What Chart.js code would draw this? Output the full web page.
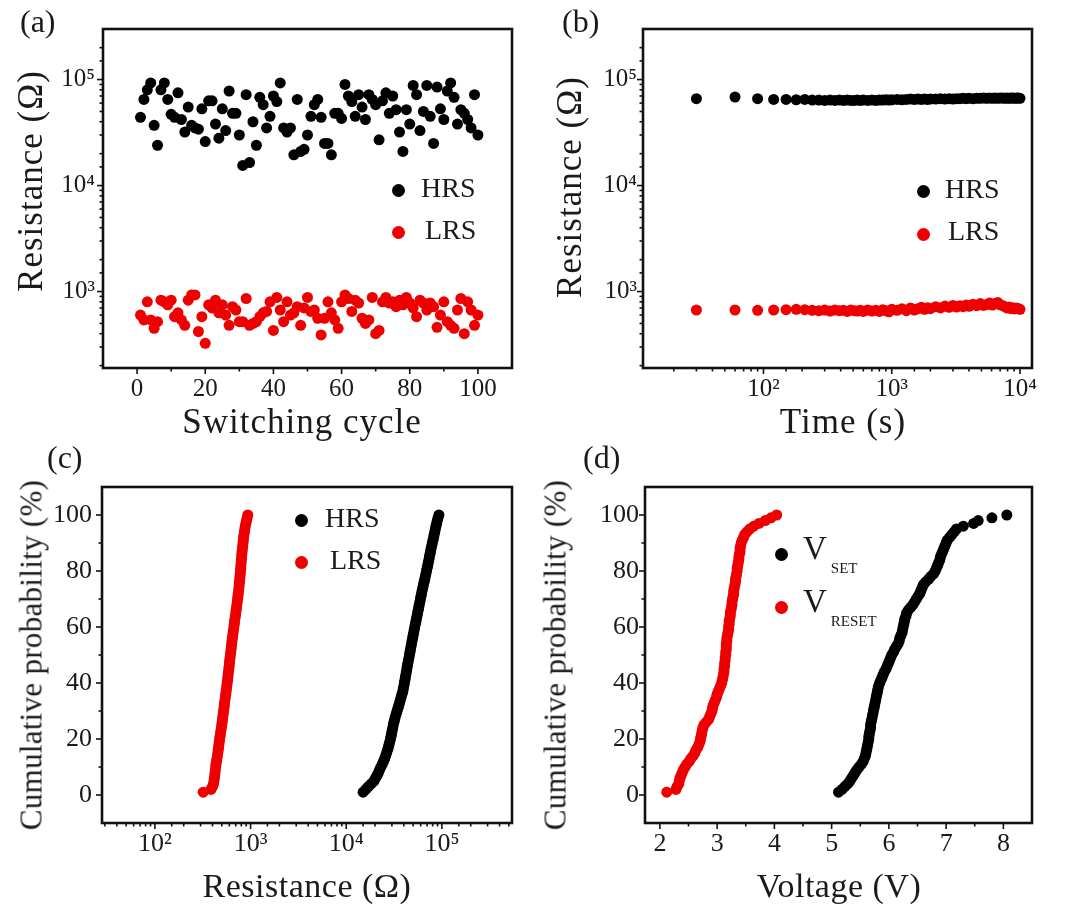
<!DOCTYPE html>
<html>
<head>
<meta charset="utf-8">
<script src="https://cdn.jsdelivr.net/npm/chart.js@4"></script>
<style>
  body { margin: 0; background: #fff; }
  #wrap { position: relative; width: 1072px; height: 904px; font-family: "Liberation Serif", "Times New Roman", serif; color: #1a1a1a; overflow: hidden; }
  canvas { position: absolute; }
  .t { position: absolute; white-space: nowrap; line-height: 1; }
  .dot { position: absolute; border-radius: 50%; }
  .ytitle { transform: translate(-50%, -50%) rotate(-90deg); }
  .xtitle { transform: translateX(-50%); }
  sub { font-size: 15px; vertical-align: -14px; margin-left: 4px; }
</style>
</head>
<body>
<div id="wrap">
  <canvas id="ca" width="536" height="452" style="left:0;top:0"></canvas>
  <canvas id="cb" width="536" height="452" style="left:536px;top:0"></canvas>
  <canvas id="cc" width="536" height="452" style="left:0;top:452px"></canvas>
  <canvas id="cd" width="536" height="452" style="left:536px;top:452px"></canvas>

  <div class="t" style="left:20px;top:5px;font-size:32px">(a)</div>
  <div class="t" style="left:562px;top:5px;font-size:32px">(b)</div>
  <div class="t" style="left:47px;top:441px;font-size:32px">(c)</div>
  <div class="t" style="left:583px;top:441px;font-size:32px">(d)</div>

  <div class="t ytitle" style="left:30px;top:181px;font-size:35px;letter-spacing:1px">Resistance (Ω)</div>
  <div class="t xtitle" style="left:302px;top:404px;font-size:35px;letter-spacing:1px">Switching cycle</div>
  <div class="t ytitle" style="left:569px;top:187px;font-size:35px;letter-spacing:1px">Resistance (Ω)</div>
  <div class="t xtitle" style="left:843px;top:404px;font-size:35px;letter-spacing:1px">Time (s)</div>
  <div class="t ytitle" style="left:31px;top:655px;font-size:31px;letter-spacing:0.3px">Cumulative probability (%)</div>
  <div class="t xtitle" style="left:307px;top:869px;font-size:34px;letter-spacing:0.5px">Resistance (Ω)</div>
  <div class="t ytitle" style="left:555px;top:655px;font-size:31px;letter-spacing:0.3px">Cumulative probability (%)</div>
  <div class="t xtitle" style="left:839px;top:869px;font-size:34px;letter-spacing:0.5px">Voltage (V)</div>

  <div class="dot" style="left:392px;top:184px;width:13px;height:13px;background:#000"></div>
  <div class="t" style="left:421px;top:174px;font-size:28px">HRS</div>
  <div class="dot" style="left:392px;top:226px;width:13px;height:13px;background:#ee0000"></div>
  <div class="t" style="left:425px;top:216px;font-size:28px">LRS</div>

  <div class="dot" style="left:917px;top:185px;width:13px;height:13px;background:#000"></div>
  <div class="t" style="left:945px;top:175px;font-size:28px">HRS</div>
  <div class="dot" style="left:917px;top:228px;width:13px;height:13px;background:#ee0000"></div>
  <div class="t" style="left:948px;top:217px;font-size:28px">LRS</div>

  <div class="dot" style="left:295px;top:514px;width:13px;height:13px;background:#000"></div>
  <div class="t" style="left:325px;top:504px;font-size:28px">HRS</div>
  <div class="dot" style="left:295px;top:556px;width:13px;height:13px;background:#ee0000"></div>
  <div class="t" style="left:330px;top:546px;font-size:28px">LRS</div>

  <div class="dot" style="left:775px;top:548px;width:13px;height:13px;background:#000"></div>
  <div class="t" style="left:803px;top:532px;font-size:33px">V<sub>SET</sub></div>
  <div class="dot" style="left:775px;top:601px;width:13px;height:13px;background:#ee0000"></div>
  <div class="t" style="left:803px;top:585px;font-size:33px">V<sub>RESET</sub></div>
</div>
<script>
// (a) switching cycles
const cycles = [1,2,3,4,5,6,7,8,9,10,11,12,13,14,15,16,17,18,19,20,
  21,22,23,24,25,26,27,28,29,30,31,32,33,34,35,36,37,38,39,40,
  41,42,43,44,45,46,47,48,49,50,51,52,53,54,55,56,57,58,59,60,
  61,62,63,64,65,66,67,68,69,70,71,72,73,74,75,76,77,78,79,80,
  81,82,83,84,85,86,87,88,89,90,91,92,93,94,95,96,97,98,99,100];
const hrsCycle = [44000,65000,80000,93000,37000,24000,80000,93000,65000,47000,
  44000,75000,42000,32000,55000,37000,35000,34000,53000,26000,
  63000,63000,38000,28000,53000,33000,78000,48000,48000,30000,
  15500,72000,16500,40000,24000,68000,58000,35000,45000,70000,
  62000,93000,35000,32000,35000,19500,65000,21000,22000,30000,
  45000,58000,65000,44000,25000,25000,19500,48000,48000,43000,
  90000,70000,62000,45000,72000,55000,42000,72000,65000,58000,
  27000,63000,75000,48000,70000,52000,32000,21000,52000,38000,
  88000,72000,33000,50000,88000,45000,25000,85000,53000,42000,
  78000,93000,68000,38000,52000,48000,42000,35000,72000,30000];
const lrsCycle = [600,540,800,540,450,520,830,800,750,830,
  580,630,540,480,830,930,930,420,580,325,
  750,700,830,630,750,600,480,720,670,520,
  520,860,480,500,520,580,630,650,800,430,
  880,670,520,800,600,630,720,480,700,880,
  650,670,560,390,560,800,630,540,450,800,
  930,860,650,830,780,560,500,540,880,400,
  430,800,880,780,800,720,830,750,880,780,
  700,580,830,780,670,780,720,460,600,800,
  520,480,450,670,860,400,800,670,480,600];

// (b) retention
const timeS = [30,60,90,120,150,180,210,240,270,300,330,360,390,420,450,480,510,540,570,600,
  650,700,750,800,850,900,950,1000,
  1100,1200,1300,1400,1500,1600,1700,1800,1900,2000,
  2200,2400,2600,2800,3000,3200,3400,3600,3800,4000,
  4300,4600,4900,5200,5500,5800,6100,6400,6700,7000,
  7300,7600,7900,8200,8500,8800,9100,9400,9700,10000];
const hrsTime = [66000,68500,66000,65000,65000,64500,65000,64000,64000,63500,
  64000,63500,64000,63500,64000,63500,63500,64000,63500,64000,
  63500,64000,63500,64000,64000,64500,64000,64500,65000,64500,
  65000,65500,65000,65500,65000,65500,65000,65500,65500,66000,
  65500,66000,65500,66000,66000,66500,66000,66500,66000,66500,
  66500,67000,66500,67000,66500,67000,66500,67000,67000,66500,
  67000,66500,67000,67000,66500,67000,67000,66500];
const lrsTime = [670,670,665,670,675,680,675,665,660,670,
  655,670,660,665,650,670,660,655,665,650,
  670,655,665,650,675,660,645,680,665,690,
  660,700,670,690,710,680,705,690,720,700,
  730,710,740,715,735,720,745,725,760,735,
  770,740,755,780,745,770,790,750,740,720,
  700,715,690,705,685,700,690,680];

// (c)/(d) cumulative probability (%)
const prob = [1,2,3,4,5,6,7,8,9,10,11,12,13,14,15,16,17,18,19,20,
  21,22,23,24,25,26,27,28,29,30,31,32,33,34,35,36,37,38,39,40,
  41,42,43,44,45,46,47,48,49,50,51,52,53,54,55,56,57,58,59,60,
  61,62,63,64,65,66,67,68,69,70,71,72,73,74,75,76,77,78,79,80,
  81,82,83,84,85,86,87,88,89,90,91,92,93,94,95,96,97,98,99,100];
const hrsDist = [15000,16000,17000,18200,19500,20200,21000,21700,22300,23000,
  23800,24500,25200,25800,26400,27000,27500,28000,28500,29000,
  29400,29800,30200,30600,31000,31500,32000,32600,33300,34000,
  34700,35400,36100,36800,37500,38200,39000,39500,40000,40500,
  41000,41500,42000,42500,43000,43500,44000,44600,45200,45800,
  46300,46900,47500,48100,48700,49400,50000,50700,51300,52000,
  52700,53500,54200,55000,55700,56500,57200,58000,58800,59600,
  60400,61200,62100,63000,64000,65000,66000,67000,68000,69000,
  70000,71000,72000,73000,74000,75000,76000,77000,78200,79400,
  80600,81800,83000,84200,85400,86600,88000,89500,91000,93000];
const lrsDist = [320,385,400,410,415,418,422,425,428,432,
  435,440,445,450,455,459,463,467,471,475,
  480,485,490,495,500,505,509,513,518,522,
  527,531,535,540,545,550,555,560,565,570,
  575,579,583,588,592,597,601,605,610,615,
  620,625,630,635,640,645,651,657,663,669,
  675,680,687,694,700,707,713,720,726,732,
  738,744,750,755,760,765,770,775,780,785,
  789,793,797,801,806,810,816,822,828,834,
  840,845,853,862,871,880,893,906,920,935];
const vSet = [5.12,5.18,5.23,5.28,5.32,5.35,5.38,5.41,5.44,5.48,
  5.52,5.55,5.57,5.59,5.60,5.61,5.62,5.63,5.64,5.65,
  5.65,5.66,5.67,5.68,5.68,5.69,5.70,5.71,5.72,5.73,
  5.74,5.75,5.76,5.77,5.78,5.79,5.80,5.81,5.82,5.84,
  5.86,5.88,5.90,5.92,5.95,5.97,5.99,6.01,6.03,6.05,
  6.08,6.10,6.13,6.16,6.18,6.19,6.21,6.23,6.24,6.25,
  6.26,6.27,6.28,6.30,6.31,6.34,6.38,6.42,6.45,6.48,
  6.51,6.54,6.56,6.58,6.60,6.64,6.69,6.73,6.78,6.81,
  6.83,6.85,6.87,6.89,6.90,6.92,6.94,6.96,6.98,7.00,
  7.02,7.06,7.10,7.14,7.18,7.30,7.48,7.56,7.80,8.06];
const vReset = [2.12,2.28,2.30,2.33,2.34,2.35,2.37,2.39,2.41,2.44,
  2.47,2.51,2.54,2.58,2.61,2.63,2.66,2.68,2.70,2.71,
  2.72,2.73,2.74,2.75,2.77,2.81,2.85,2.87,2.89,2.91,
  2.92,2.93,2.95,2.97,2.99,3.00,3.02,3.04,3.06,3.08,
  3.09,3.10,3.11,3.12,3.12,3.13,3.13,3.14,3.14,3.15,
  3.15,3.16,3.16,3.16,3.17,3.17,3.18,3.19,3.20,3.20,
  3.21,3.21,3.22,3.23,3.23,3.24,3.25,3.26,3.26,3.27,
  3.28,3.29,3.29,3.30,3.31,3.32,3.32,3.33,3.34,3.35,
  3.35,3.36,3.37,3.38,3.38,3.39,3.40,3.40,3.41,3.42,
  3.44,3.46,3.48,3.52,3.57,3.64,3.73,3.84,3.94,4.04];

const BLACK = '#000000';
const RED = '#ee0000';
const FONT = 'Liberation Serif';
const SUP = { '2': '²', '3': '³', '4': '⁴', '5': '⁵' };

function logLabel(v) {
  const e = Math.log10(v);
  if (Math.abs(e - Math.round(e)) > 1e-6) return '';
  return '10' + SUP[String(Math.round(e))];
}
const everyTwenty = v => (v >= 0 && v <= 100 && v % 20 === 0) ? String(v) : '';
const wholeVolts = v => Number.isInteger(v) ? String(v) : '';

function series(label, xs, ys, color) {
  return {
    label: label,
    data: xs.map((x, i) => ({ x: x, y: ys[i] })),
    pointRadius: 5.5,
    pointBorderWidth: 0,
    pointBackgroundColor: color,
    backgroundColor: color,
    showLine: false
  };
}

// frame plus tick marks, placed with each chart's own scales
const frame = {
  id: 'frame',
  afterDraw(chart) {
    const ctx = chart.ctx, a = chart.chartArea;
    ctx.save();
    ctx.strokeStyle = '#111';
    ctx.lineWidth = 1.6;
    ['x', 'y'].forEach(id => {
      const s = chart.scales[id];
      s.ticks.forEach(t => {
        const p = s.getPixelForValue(t.value);
        const len = t.label ? 6 : 3.5;
        if (id === 'x') {
          if (p < a.left + 2 || p > a.right - 2) return;
          ctx.beginPath();
          ctx.moveTo(p, a.bottom);
          ctx.lineTo(p, a.bottom + len);
          ctx.stroke();
        } else {
          if (p < a.top + 2 || p > a.bottom - 2) return;
          ctx.beginPath();
          ctx.moveTo(a.left, p);
          ctx.lineTo(a.left - len, p);
          ctx.stroke();
        }
      });
    });
    ctx.lineWidth = 2.6;
    ctx.strokeRect(a.left, a.top, a.right - a.left, a.bottom - a.top);
    ctx.restore();
  }
};

function axis(type, min, max, cb, fontSize, pad, step) {
  const ticks = {
    autoSkip: false,
    maxRotation: 0,
    includeBounds: false,
    padding: pad,
    color: '#1a1a1a',
    font: { family: FONT, size: fontSize },
    callback: cb
  };
  if (step) ticks.stepSize = step;
  return {
    type: type,
    min: min,
    max: max,
    grid: { display: false, drawTicks: false },
    border: { display: false },
    ticks: ticks
  };
}

function makeChart(id, datasets, xScale, yScale, box) {
  xScale.afterFit = s => { s.height = box.xh; };
  yScale.afterFit = s => { s.width = box.yw; };
  return new Chart(document.getElementById(id), {
    type: 'scatter',
    data: { datasets: datasets },
    options: {
      responsive: false,
      animation: false,
      devicePixelRatio: 1,
      layout: { padding: { top: box.top, right: box.right, left: 0, bottom: 0 } },
      plugins: { legend: { display: false }, tooltip: { enabled: false } },
      scales: { x: xScale, y: yScale }
    },
    plugins: [frame]
  });
}

makeChart('ca',
  [series('HRS', cycles, hrsCycle, BLACK), series('LRS', cycles, lrsCycle, RED)],
  axis('linear', -10, 110, everyTwenty, 25, 6, 10),
  axis('logarithmic', 190, 300000, logLabel, 25, 8),
  { top: 29, right: 24, yw: 103, xh: 84 });

makeChart('cb',
  [series('HRS', timeS, hrsTime, BLACK), series('LRS', timeS, lrsTime, RED)],
  axis('logarithmic', 11.5, 12400, logLabel, 25, 6),
  axis('logarithmic', 190, 300000, logLabel, 25, 6),
  { top: 29, right: 40, yw: 107, xh: 84 });

makeChart('cc',
  [series('HRS', hrsDist, prob, BLACK), series('LRS', lrsDist, prob, RED)],
  axis('logarithmic', 28, 540000, logLabel, 26, 6),
  axis('linear', -10, 110, everyTwenty, 26, 10, 10),
  { top: 35, right: 24, yw: 102, xh: 81 });

makeChart('cd',
  [series('V_SET', vSet, prob, BLACK), series('V_RESET', vReset, prob, RED)],
  axis('linear', 1.74, 8.5, wholeVolts, 26, 6, 0.5),
  axis('linear', -10, 110, everyTwenty, 26, 6, 10),
  { top: 35, right: 40, yw: 109, xh: 81 });
</script>
</body>
</html>
